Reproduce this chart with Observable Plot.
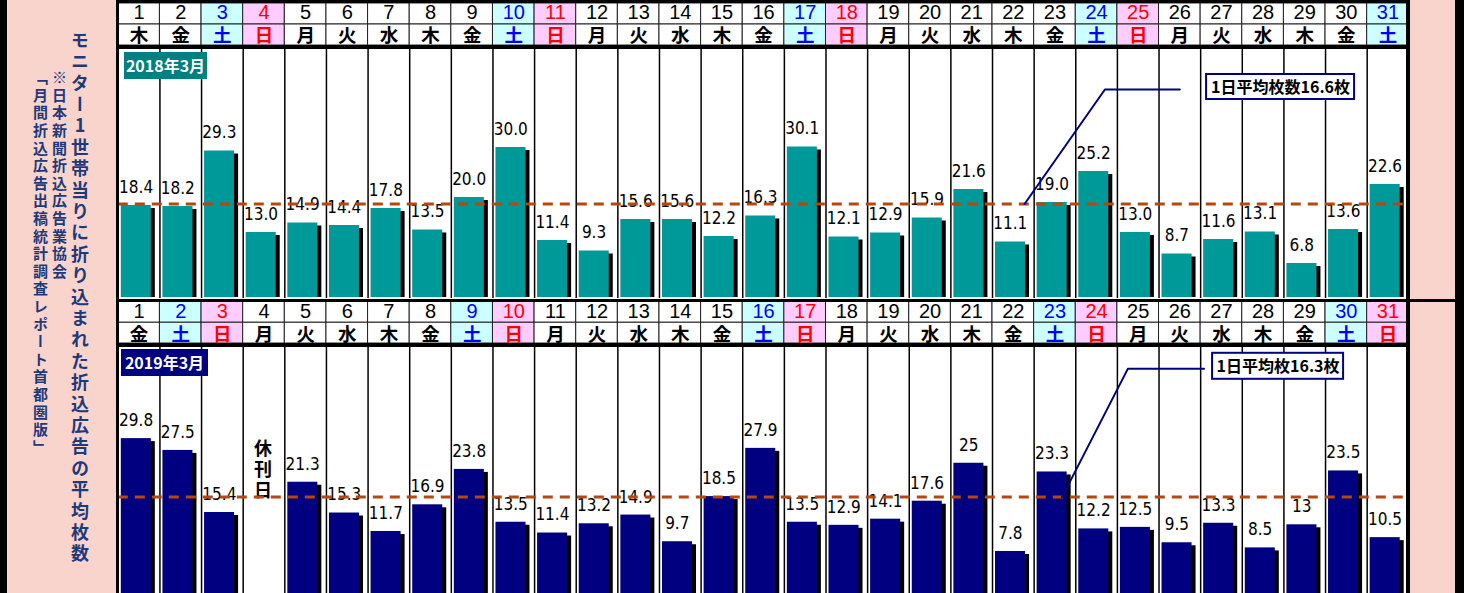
<!DOCTYPE html>
<html><head><meta charset="utf-8">
<script src="https://cdn.jsdelivr.net/npm/d3@7"></script>
<script src="https://cdn.jsdelivr.net/npm/@observablehq/plot@0.6"></script>
<style>
body{margin:0;background:#fff;}
#wrap{position:relative;width:1464px;height:593px;overflow:hidden;background:#fff;font-family:"Noto Sans CJK JP",sans-serif;}
.blk{position:absolute;background:#000;}
.pink{position:absolute;background:#f9d4cc;}
.vt{position:absolute;writing-mode:vertical-rl;text-orientation:upright;color:#1f3a7a;font-weight:bold;font-family:"Noto Sans CJK JP",sans-serif;white-space:nowrap;}
.tag{position:absolute;color:#fff;font-weight:bold;font-size:16px;line-height:27px;height:27px;text-align:center;font-family:"Noto Sans CJK JP",sans-serif;}
</style></head>
<body><div id="wrap"></div>
<script>
// ---------- data ----------
const days = d3.range(1, 32);
const weekdays2018 = ["木","金","土","日","月","火","水","木","金","土","日","月","火","水","木","金","土","日","月","火","水","木","金","土","日","月","火","水","木","金","土"];
const weekdays2019 = ["金","土","日","月","火","水","木","金","土","日","月","火","水","木","金","土","日","月","火","水","木","金","土","日","月","火","水","木","金","土","日"];
const values2018 = [18.4,18.2,29.3,13.0,14.9,14.4,17.8,13.5,20.0,30.0,11.4,9.3,15.6,15.6,12.2,16.3,30.1,12.1,12.9,15.9,21.6,11.1,19.0,25.2,13.0,8.7,11.6,13.1,6.8,13.6,22.6];
const values2019 = [29.8,27.5,15.4,null,21.3,15.3,11.7,16.9,23.8,13.5,11.4,13.2,14.9,9.7,18.5,27.9,13.5,12.9,14.1,17.6,25,7.8,23.3,12.2,12.5,9.5,13.3,8.5,13,23.5,10.5];
const labels2018 = values2018.map(v => v.toFixed(1));
const labels2019 = values2019.map(v => v == null ? null : String(v));
const avgLine2018 = 18.7;   // level at which the dashed average line is drawn
const avgLine2019 = 18.4;
const avgText2018 = "1日平均枚数16.6枚";
const avgText2019 = "1日平均枚16.3枚";
const callout2018 = [{day:22.27, v:18.7},{day:24.2, v:41.6},{day:26.0, v:41.6}];
const callout2019 = [{day:23.17, v:18.4},{day:24.75, v:43.4},{day:26.58, v:43.4}];
const calloutBox2018 = {day:28.42, v:42.1};
const calloutBox2019 = {day:28.36, v:43.9};
const holiday2019 = [{day:4, text:"休\n刊\n日"}];
const yearTag2018 = "2018年3月";
const yearTag2019 = "2019年3月";
const titleMain = "モニター1世帯当りに折り込まれた折込広告の平均枚数";
const titleSrc1 = "※日本新聞折込広告業協会";
const titleSrc2 = "「月間折込広告出稿統計調査レポート首都圏版」";

// ---------- layout helpers ----------
const wrap = document.getElementById("wrap");
function place(node, top) {
  const d = document.createElement("div");
  d.style.cssText = `position:absolute;left:0;top:${top}px;`;
  d.appendChild(node);
  wrap.appendChild(d);
}
function box(cls, l, t, w, h, extra) {
  const d = document.createElement("div");
  d.className = cls;
  d.style.cssText += `left:${l}px;top:${t}px;width:${w}px;height:${h}px;` + (extra || "");
  wrap.appendChild(d);
  return d;
}
const ML = 117.8, MR = 55.7;
const bgFor = wd => wd === "土" ? "#ccffff" : wd === "日" ? "#ffccff" : "#ffffff";
const fgFor = wd => wd === "土" ? "#0000ff" : wd === "日" ? "#ff0000" : "#000000";

function header(weekdays, marginTop) {
  const cells = days.flatMap((d, i) => [
    {day: d, row: 0, text: String(d), wd: weekdays[i]},
    {day: d, row: 1, text: weekdays[i], wd: weekdays[i]}
  ]);
  return Plot.plot({
    width: 1464, height: 49, marginLeft: ML, marginRight: MR, marginTop, marginBottom: 4,
    x: {domain: [0.5, 31.5], axis: null},
    y: {domain: [0, 2], reverse: true, axis: null},
    color: {type: "identity"},
    style: {background: "transparent"},
    marks: [
      Plot.rect(cells, {x1: d => d.day - 0.5, x2: d => d.day + 0.5, y1: "row", y2: d => d.row + 1,
        fill: d => bgFor(d.wd), stroke: "#222", strokeWidth: 1}),
      Plot.text(cells.filter(c => c.row === 0), {x: "day", y: d => d.row + 0.5, text: "text",
        fill: d => fgFor(d.wd), fontSize: 20, fontFamily: "'Liberation Sans', Arial, sans-serif", dy: -1}),
      Plot.text(cells.filter(c => c.row === 1), {x: "day", y: d => d.row + 0.5, text: "text",
        fill: d => fgFor(d.wd), fontSize: 18.5, fontWeight: "bold", fontFamily: "'Noto Sans CJK JP', sans-serif", dy: 1.5})
    ]
  });
}

function chart(o) {
  const data = days.map((d, i) => ({day: d, v: o.values[i], label: o.labels[i]})).filter(d => d.v != null);
  const svg = Plot.plot({
    width: 1464, height: o.height, marginLeft: ML, marginRight: MR, marginTop: 0, marginBottom: o.marginBottom,
    x: {domain: [0.5, 31.5], axis: null},
    y: {domain: [0, o.yMax], axis: null},
    style: {background: "transparent"},
    marks: [
      Plot.ruleX(days.slice(0, -1), {x: d => d + 0.5, stroke: "#000", strokeWidth: 1.5, insetBottom: -4}),
      Plot.rect(data, {x1: d => d.day - 0.5, x2: d => d.day + 0.5, y1: 0, y2: "v", fill: "#000",
        insetLeft: 3, insetRight: 8.6, insetBottom: o.shadowInsetBottom, dx: 4, dy: 3}),
      Plot.rect(data, {x1: d => d.day - 0.5, x2: d => d.day + 0.5, y1: 0, y2: "v", fill: o.color,
        insetLeft: 3, insetRight: 8.6, insetBottom: o.barInsetBottom}),
      Plot.text(data, {x: "day", y: "v", text: "label", dx: -3, dy: -18, fontSize: 17, fill: "#000",
        fontFamily: "'Liberation Sans Narrow', 'DejaVu Sans Condensed', sans-serif", ariaLabel: "bar-labels"}),
      ...(o.note ? [Plot.text(o.note, {x: "day", frameAnchor: "middle", text: "text", fontSize: 18,
        fontWeight: "bold", lineHeight: 1.17, fill: "#000", dx: -1, fontFamily: "'Noto Sans CJK JP', sans-serif"})] : []),
      Plot.ruleY([o.avgLine], {stroke: "#b8470f", strokeWidth: 3, strokeDasharray: "10,7"}),
      Plot.line(o.callout, {x: "day", y: "v", stroke: "#000080", strokeWidth: 2}),
      Plot.rect([o.box], {x1: "day", x2: "day", y1: "v", y2: "v", fill: "#fff", stroke: "#000080", strokeWidth: 2,
        insetLeft: -o.boxHW, insetRight: -o.boxHW, insetTop: -o.boxHH, insetBottom: -o.boxHH}),
      Plot.text([o.box], {x: "day", y: "v", text: () => o.boxText, fontSize: 16, fontWeight: "bold", fill: "#000",
        fontFamily: "'Noto Sans CJK JP', sans-serif", dy: 1})
    ]
  });
  d3.select(svg).selectAll('g[aria-label="bar-labels"] text').style("letter-spacing", "1.5px");
  return svg;
}

// ---------- plots ----------
place(header(weekdays2018, 3), 0);
place(chart({values: values2018, labels: labels2018, color: "#009999", height: 249, marginBottom: 1,
  yMax: 248 / 5, shadowInsetBottom: 3, barInsetBottom: 0, avgLine: avgLine2018,
  callout: callout2018, box: calloutBox2018, boxText: avgText2018, boxHW: 74, boxHH: 12.5}), 49);
place(header(weekdays2019, 3.5), 298);
place(chart({values: values2019, labels: labels2019, color: "#000080", height: 246, marginBottom: 2,
  yMax: 244 / 5.13, shadowInsetBottom: -4, barInsetBottom: -4, avgLine: avgLine2019, note: holiday2019,
  callout: callout2019, box: calloutBox2019, boxText: avgText2019, boxHW: 65.5, boxHH: 13}), 347);

// ---------- frame ----------
box("blk", 0, 0, 7, 593);
box("pink", 7, 0, 109, 593);
box("blk", 116, 0, 3, 593);
box("blk", 1406, 0, 4, 593);
box("pink", 1410, 0, 45, 593);
box("blk", 1455, 0, 9, 593);
box("blk", 116, 0, 1294, 3);
box("blk", 116, 45, 1294, 4);
box("blk", 116, 299, 1339, 3);
box("blk", 116, 343, 1294, 4);

// ---------- tags & side titles ----------
const t1 = box("tag", 124, 52, 83, 27, "background:#008080;"); t1.textContent = yearTag2018;
const t2 = box("tag", 121, 349, 87, 27, "background:#000080;"); t2.textContent = yearTag2019;
const v1 = box("vt", 68, 31, 24, 545, "font-size:18px;letter-spacing:3.4px;line-height:24px;"); v1.textContent = titleMain;
const v2 = box("vt", 49, 70, 20, 220, "font-size:15px;letter-spacing:2.6px;line-height:20px;"); v2.textContent = titleSrc1;
const v3 = box("vt", 30, 70, 20, 400, "font-size:15px;letter-spacing:2.6px;line-height:20px;"); v3.textContent = titleSrc2;
</script>
</body></html>
